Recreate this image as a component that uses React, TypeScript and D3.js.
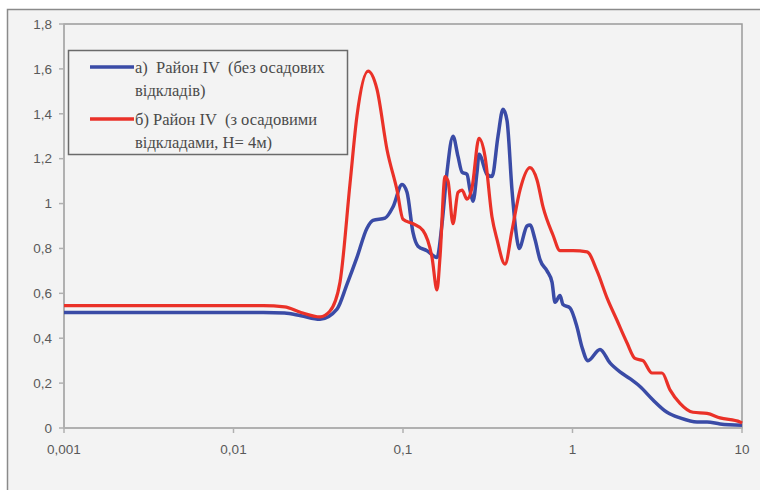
import React from "react";
import * as d3 from "d3";

const xTicks = [0.001, 0.01, 0.1, 1, 10];
const xTickLabels = ["0,001", "0,01", "0,1", "1", "10"];
const yTicks = [0, 0.2, 0.4, 0.6, 0.8, 1, 1.2, 1.4, 1.6, 1.8];
const yTickLabels = ["0", "0,2", "0,4", "0,6", "0,8", "1", "1,2", "1,4", "1,6", "1,8"];

const seriesNames = ["а)  Район IV  (без осадових", "б) Район IV  (з осадовими"];
const seriesNames2 = ["відкладів)", "відкладами, H= 4м)"];

const blueX = [0.001, 0.005, 0.015, 0.02, 0.025, 0.0324, 0.0408, 0.0467, 0.0535, 0.0613, 0.0665, 0.0783, 0.0873, 0.0987, 0.1056, 0.1146, 0.1226, 0.1385, 0.1587, 0.1699, 0.1818, 0.1972, 0.2111, 0.2229, 0.2386, 0.2485, 0.2588, 0.2733, 0.2808, 0.3131, 0.3351, 0.3635, 0.389, 0.4108, 0.4396, 0.4706, 0.4835, 0.539, 0.5615, 0.601, 0.643, 0.7073, 0.757, 0.7886, 0.8438, 0.879, 0.967, 1.063, 1.138, 1.234, 1.453, 1.664, 1.906, 2.184, 2.501, 2.985, 3.611, 4.308, 5.43, 6.22, 7.42, 10];
const blueY = [0.515, 0.515, 0.515, 0.512, 0.5, 0.485, 0.53, 0.64, 0.76, 0.89, 0.925, 0.935, 0.985, 1.085, 1.05, 0.87, 0.81, 0.79, 0.76, 0.91, 1.14, 1.3, 1.21, 1.14, 1.13, 1.06, 1.01, 1.14, 1.22, 1.13, 1.12, 1.3, 1.42, 1.37, 1.06, 0.84, 0.8, 0.9, 0.905, 0.84, 0.75, 0.7, 0.65, 0.56, 0.59, 0.55, 0.535, 0.45, 0.36, 0.3, 0.35, 0.29, 0.25, 0.22, 0.185, 0.125, 0.07, 0.045, 0.027, 0.027, 0.018, 0.012];

const redX = [0.001, 0.015, 0.02, 0.025, 0.0324, 0.037, 0.0425, 0.0487, 0.0535, 0.0622, 0.0702, 0.0805, 0.0922, 0.1, 0.1146, 0.1312, 0.1483, 0.1587, 0.1653, 0.177, 0.1843, 0.1972, 0.2111, 0.2229, 0.2386, 0.2553, 0.2808, 0.3047, 0.3351, 0.3586, 0.3998, 0.4396, 0.49, 0.5615, 0.6175, 0.67, 0.767, 0.8438, 1.007, 1.218, 1.395, 1.598, 1.83, 2.096, 2.337, 2.605, 2.944, 3.374, 3.761, 4.308, 5.14, 6.22, 7.42, 9.73, 10];
const redY = [0.545, 0.545, 0.54, 0.515, 0.495, 0.52, 0.65, 1.09, 1.39, 1.59, 1.51, 1.24, 1.06, 0.93, 0.91, 0.88, 0.76, 0.615, 0.76, 1.12, 1.1, 0.91, 1.05, 1.06, 1.02, 1.07, 1.29, 1.21, 0.94, 0.84, 0.73, 0.88, 1.06, 1.16, 1.105, 0.985, 0.86, 0.79, 0.79, 0.785, 0.7, 0.58, 0.48, 0.38, 0.31, 0.3, 0.245, 0.245, 0.17, 0.11, 0.07, 0.065, 0.045, 0.027, 0.022];

const colors = ["#3a4ba6", "#ea3128"];

export default function App() {
  const left = 64, right = 742, top = 24, bottom = 428;
  const x = d3.scaleLog().domain([0.001, 10]).range([left, right]);
  const y = d3.scaleLinear().domain([0, 1.8]).range([bottom, top]);
  const line = d3
    .line<[number, number]>()
    .x((d) => x(d[0]))
    .y((d) => y(d[1]))
    .curve(d3.curveMonotoneX);
  const blue = blueX.map((v, i) => [v, blueY[i]] as [number, number]);
  const red = redX.map((v, i) => [v, redY[i]] as [number, number]);
  const tickFont = "'Liberation Sans', Arial, sans-serif";
  const legStyle = { whiteSpace: "pre" as const, fontFamily: "'Liberation Serif', serif", fontSize: "16.5px" };

  return (
    <svg width={760} height={490} style={{ position: "absolute", left: 0, top: 0 }}>
      <rect x={0} y={0} width={760} height={490} fill="#ffffff" />
      <rect x={7.5} y={9.5} width={800} height={500} fill="#f3f3f3" stroke="#8a8a8a" strokeWidth={1.5} />
      <rect x={left} y={top} width={right - left} height={bottom - top} fill="#f3f3f3" stroke="#9a9a9a" strokeWidth={1.5} />
      <line x1={left} x2={left} y1={top} y2={bottom} stroke="#b0b0b0" strokeWidth={1.5} />
      <line x1={left} x2={right} y1={bottom} y2={bottom} stroke="#b0b0b0" strokeWidth={1.5} />
      {yTicks.map((t, i) => (
        <g key={"y" + i}>
          <line x1={left - 5} x2={left} y1={y(t)} y2={y(t)} stroke="#b0b0b0" strokeWidth={1.5} />
          <text x={52} y={y(t)} dy="0.35em" textAnchor="end" fontFamily={tickFont} fontSize={13.5} fill="#595959">
            {yTickLabels[i]}
          </text>
        </g>
      ))}
      {xTicks.map((t, i) => (
        <g key={"x" + i}>
          <line x1={x(t)} x2={x(t)} y1={bottom} y2={bottom + 5} stroke="#b0b0b0" strokeWidth={1.5} />
          <text x={x(t)} y={454} textAnchor="middle" fontFamily={tickFont} fontSize={13.5} fill="#595959">
            {xTickLabels[i]}
          </text>
        </g>
      ))}
      <path d={line(blue) || ""} fill="none" stroke={colors[0]} strokeWidth={3.5} strokeLinejoin="round" />
      <path d={line(red) || ""} fill="none" stroke={colors[1]} strokeWidth={3.2} strokeLinejoin="round" />
      <rect x={68.5} y={50.5} width={279} height={104} fill="#f3f3f3" stroke="#6a6a6a" strokeWidth={1.5} />
      {[0, 1].map((i) => {
        const ly = i === 0 ? 67 : 119;
        return (
          <g key={"l" + i}>
            <line x1={90} x2={134} y1={ly} y2={ly} stroke={colors[i]} strokeWidth={3.5} />
            <text x={135} y={ly + 5.5} fill="#4a4a4a" style={legStyle}>
              {seriesNames[i]}
            </text>
            <text x={135} y={ly + 29} fill="#4a4a4a" style={legStyle}>
              {seriesNames2[i]}
            </text>
          </g>
        );
      })}
    </svg>
  );
}
